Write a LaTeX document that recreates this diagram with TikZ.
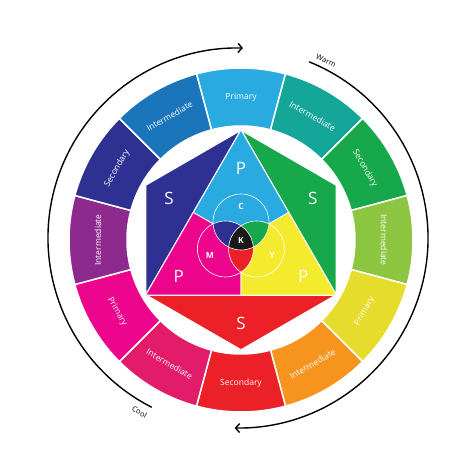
\documentclass[tikz,border=0pt]{standalone}
\usepackage{fontspec}
\setmainfont{Open Sans}
\usetikzlibrary{arrows.meta}
\definecolor{cyanP}{HTML}{29ABE2}
\definecolor{tealI}{HTML}{15A69A}
\definecolor{greenS}{HTML}{16A84A}
\definecolor{limeI}{HTML}{8CC540}
\definecolor{yellowP}{HTML}{E6DC2B}
\definecolor{yellowIn}{HTML}{F4EB2E}
\definecolor{orangeI}{HTML}{F7941E}
\definecolor{redS}{HTML}{EC2027}
\definecolor{crimsonI}{HTML}{E31C69}
\definecolor{magentaP}{HTML}{EC058C}
\definecolor{purpleI}{HTML}{8E2A8D}
\definecolor{navyS}{HTML}{2E3192}
\definecolor{blueI}{HTML}{1A75BB}
\definecolor{inkK}{HTML}{1A1A1A}
\tikzset{ringtext/.style={text=white,font=\fontsize{8.5}{10}\selectfont},
  bigtext/.style={text=white,font=\fontsize{17}{20}\selectfont},
  inktext/.style={text=white,font=\bfseries\fontsize{8.5}{9}\selectfont},
  sidetext/.style={text=black,font=\fontsize{7.5}{9}\selectfont},
  gap/.style={draw=white,line width=1.5pt},
  thingap/.style={draw=white,line width=0.8pt},
  turn/.style={line width=1.4pt,-{Straight Barb[length=4pt,width=9pt]}}
}

\begin{document}
\begin{tikzpicture}[x=1pt,y=1pt]
\useasboundingbox[fill=white] (-241,-218) rectangle (233,240);
% outer colour ring
\foreach \a/\r/\col/\txt in {90/0/cyanP/Primary, 60/-30/tealI/Intermediate,
    30/-60/greenS/Secondary, 0/-90/limeI/Intermediate, -30/60/yellowP/Primary,
    -60/30/orangeI/Intermediate, -90/0/redS/Secondary, -120/-30/crimsonI/Intermediate,
    -150/-60/magentaP/Primary, 180/90/purpleI/Intermediate, 150/60/navyS/Secondary,
    120/30/blueI/Intermediate}{
  \fill[\col,gap] (\a-15:114) arc[start angle=\a-15,end angle=\a+15,radius=114]
    -- (\a+15:172) arc[start angle=\a+15,end angle=\a-15,radius=172] -- cycle;
  \node[ringtext,rotate=\r] (lbl\a) at (\a:143) {\txt};
}
% hexagon
\foreach \a/\n in {90/t,30/tr,-30/br,-90/b,-150/bl,150/tl}
  \coordinate (\n) at (\a:110);
\coordinate (o) at (0,0);
\fill[navyS,gap] (t) -- (tl) -- (bl) -- cycle;
\fill[greenS,gap] (t) -- (tr) -- (br) -- cycle;
\fill[redS,gap] (bl) -- (b) -- (br) -- cycle;
\fill[cyanP,thingap] (t) -- (30:55) -- (o) -- (150:55) -- cycle;
\fill[magentaP,thingap] (bl) -- (150:55) -- (o) -- (-90:55) -- cycle;
\fill[yellowIn,thingap] (br) -- (-90:55) -- (o) -- (30:55) -- cycle;
% cmy circles
\coordinate (C) at (90:18);
\coordinate (M) at (210:18);
\coordinate (Y) at (-30:18);
\begin{scope}
  \clip (C) circle (28);
  \fill[navyS] (M) circle (28);
  \fill[greenS] (Y) circle (28);
\end{scope}
\begin{scope}
  \clip (M) circle (28);
  \fill[redS] (Y) circle (28);
\end{scope}
\begin{scope}
  \clip (C) circle (28);
  \clip (M) circle (28);
  \fill[inkK] (Y) circle (28);
\end{scope}
\foreach \c in {C,M,Y}
  \draw[white,line width=0.6pt] (\c) circle (28);
% letters
\node[bigtext] (pc) at (90:72) {P};
\node[bigtext] (pm) at (210:72) {P};
\node[bigtext] (py) at (-30:72) {P};
\node[bigtext] (sb) at (150:83) {S};
\node[bigtext] (sg) at (30:83) {S};
\node[bigtext] (sr) at (-90:83) {S};
\node[inktext] (lc) at (90:34) {C};
\node[inktext] (lm) at (207:35) {M};
\node[inktext] (ly) at (-27:35) {Y};
\node[inktext] (lk) at (o) {K};
% warm and cool arrows
\begin{scope}[shift={(-3,2)}]
  \draw[turn] (243:190) arc[start angle=243,end angle=88.5,radius=190];
  \draw[turn] (68:190) arc[start angle=68,end angle=-91,radius=190];
  \node[sidetext,rotate=-26] (warm) at (63.6:198) {Warm};
  \node[sidetext,rotate=-30] (cool) at (240.5:200) {Cool};
\end{scope}
\end{tikzpicture}
\end{document}
